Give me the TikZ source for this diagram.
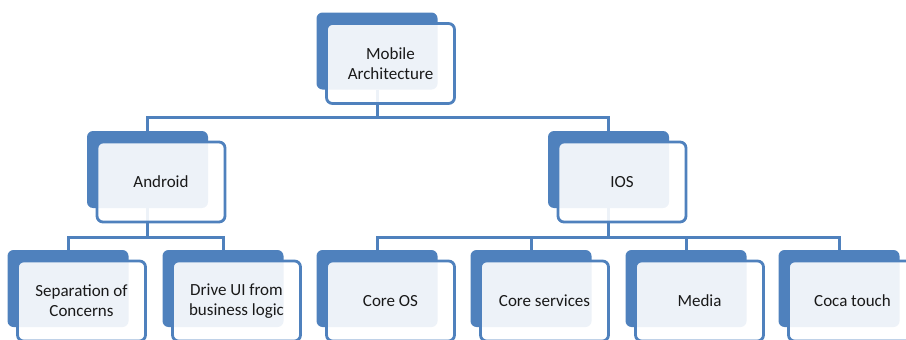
\documentclass[tikz,border=0pt]{standalone}
\usepackage{fontspec}
\setmainfont{Carlito}
\usetikzlibrary{positioning, calc, backgrounds}
\definecolor{caixaazul}{RGB}{79, 129, 189}

\begin{document}
\begin{tikzpicture}[
            x=1pt, y=-1pt,
            back/.style={fill=caixaazul, rounded corners=6pt, minimum width=121pt, minimum height=77pt, inner sep=0pt},
            front/.style={draw=caixaazul, line width=2.8pt, fill=white, fill opacity=0.9, text opacity=1, rounded corners=6pt,
                          minimum width=128pt, minimum height=80pt, inner sep=0pt, align=center,
                          font=\fontsize{17}{20}\selectfont, text=black!90, xshift=13.5pt, yshift=-12.5pt},
            link/.style={draw=caixaazul, line width=3pt}
        ]
            \useasboundingbox (0,0) rectangle (906,340);
            % Nodes
            \node[back] (mob-b) at (377,51) {};
            \node[front] (mob) at (mob-b) {Mobile\\Architecture};

            \node[back] (and-b) at (147.5,169.5) {};
            \node[front] (and) at (and-b) {Android};
            \node[back] (ios-b) at (608.5,169.5) {};
            \node[front] (ios) at (ios-b) {IOS};

            \node[back] (sep-b) at (68,288.5) {};
            \node[front] (sep) at (sep-b) {Separation of\\Concerns};
            \node[back] (drv-b) at (223,288.5) {};
            \node[front] (drv) at (drv-b) {Drive UI from\\business logic};
            \node[back] (cos-b) at (377,288.5) {};
            \node[front] (cos) at (cos-b) {Core OS};
            \node[back] (csv-b) at (531,288.5) {};
            \node[front] (csv) at (csv-b) {Core services};
            \node[back] (med-b) at (686,288.5) {};
            \node[front] (med) at (med-b) {Media};
            \node[back] (coc-b) at (839,288.5) {};
            \node[front] (coc) at (coc-b) {Coca touch};

            \coordinate (bus1) at (0,117);
            \coordinate (bus2) at (0,237);

            % Arrows
            \begin{scope}[on background layer]
            \draw[link] (mob-b.south) -- (mob-b |- bus1) -| (and-b.north);
            \draw[link] (mob-b |- bus1) -| (ios-b.north);
            \draw[link] (and-b.south) -- (and-b |- bus2) -| (sep-b.north);
            \draw[link] (and-b |- bus2) -| (drv-b.north);
            \draw[link] (ios-b.south) -- (ios-b |- bus2) -| (cos-b.north);
            \draw[link] (ios-b |- bus2) -| (csv-b.north);
            \draw[link] (ios-b |- bus2) -| (med-b.north);
            \draw[link] (ios-b |- bus2) -| (coc-b.north);
            \end{scope}
        \end{tikzpicture}
\end{document}
